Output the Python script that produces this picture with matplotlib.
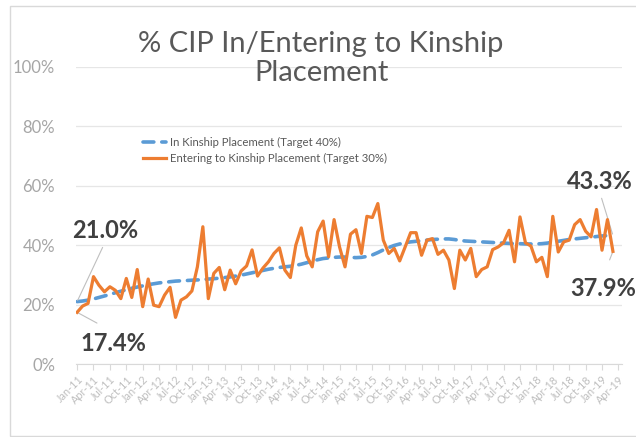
import matplotlib.pyplot as plt
from matplotlib.patches import Rectangle
from matplotlib.ticker import PercentFormatter

plt.rcParams['font.family'] = ['Lato', 'DejaVu Sans']

# Monthly values, Jan-11 .. Mar-19 (percent)
months = ["Jan", "Feb", "Mar", "Apr", "May", "Jun", "Jul", "Aug", "Sep", "Oct", "Nov", "Dec"]
dates = [f"{m}-{y:02d}" for y in range(11, 20) for m in months][:99]

in_kinship = [21.0, 21.2, 21.5, 21.9, 22.4, 22.9, 23.4, 24.0, 24.5, 25.0,
              25.5, 25.9, 26.3, 26.7, 27.0, 27.3, 27.5, 27.7, 27.9, 28.0,
              28.1, 28.2, 28.3, 28.4, 28.6, 28.7, 28.9, 29.1, 29.3, 29.6,
              29.9, 30.3, 30.7, 31.1, 31.5, 31.9, 32.2, 32.5, 32.7, 32.9,
              33.2, 33.6, 34.1, 34.6, 35.1, 35.5, 35.7, 35.9, 36.0, 36.0,
              35.9, 35.8, 35.9, 36.2, 36.7, 37.5, 38.4, 39.2, 39.9, 40.4,
              40.8, 41.1, 41.3, 41.5, 41.7, 41.9, 42.0, 42.1, 42.1, 41.9,
              41.6, 41.4, 41.3, 41.2, 41.1, 41.0, 40.9, 40.8, 40.7, 40.6,
              40.5, 40.5, 40.4, 40.4, 40.4, 40.5, 40.7, 41.0, 41.3, 41.6,
              41.9, 42.1, 42.3, 42.5, 42.7, 42.9, 43.1, 43.2, 43.3]

entering = [17.4, 19.5, 20.4, 29.4, 26.5, 24.3, 26.0, 24.8, 22.0, 28.8,
            22.4, 31.8, 19.3, 28.6, 19.8, 19.3, 23.2, 25.8, 15.7, 21.5,
            22.6, 24.6, 32.7, 46.2, 22.0, 30.5, 32.5, 25.0, 31.6, 27.0,
            31.3, 33.0, 38.4, 29.6, 32.3, 34.4, 37.2, 39.1, 31.6, 29.1,
            40.0, 45.8, 36.4, 32.7, 44.5, 48.1, 36.1, 48.6, 39.4, 32.7,
            43.7, 45.2, 37.2, 49.7, 49.3, 54.0, 41.7, 37.2, 38.9, 34.7,
            39.4, 44.2, 44.2, 36.6, 41.7, 42.2, 36.9, 38.3, 35.0, 25.4,
            38.3, 35.0, 38.9, 29.4, 31.8, 32.7, 38.5, 39.4, 40.8, 45.0,
            34.4, 49.5, 40.8, 39.7, 34.4, 35.9, 29.4, 49.7, 37.7, 41.1,
            41.7, 46.9, 48.6, 44.7, 42.8, 52.0, 38.3, 48.6, 37.9]

tick_labels = [f"{m}-{y:02d}" for y in range(11, 20) for m in ["Jan", "Apr", "Jul", "Oct"]][:34]

fig = plt.figure(figsize=(6.36, 4.37), dpi=100)
ax = fig.add_axes([0.1195, 0.167, 0.858, 0.68])

x = list(range(len(dates)))
ax.plot(x, in_kinship, color='#5B9BD5', lw=2.6, ls=(0, (3.0, 2.2)), dash_capstyle='round',
        label="In Kinship Placement (Target 40%)", zorder=3)
ax.plot(x, entering, color='#ED7D31', lw=2.3, solid_joinstyle='round',
        label="Entering to Kinship Placement (Target 30%)", zorder=4)

ax.set_ylim(0, 100)
ax.set_xlim(-0.2, 99.6)
ax.yaxis.set_major_formatter(PercentFormatter(decimals=0))
ax.set_yticks(range(0, 101, 20))
ax.set_xticks(range(0, 100, 3))
ax.set_xticklabels(tick_labels, rotation=45, ha='right', rotation_mode='anchor',
                   fontsize=7.8, color='#BFBFBF')
ax.tick_params(axis='y', length=0, pad=15, labelsize=12, labelcolor='#A6A6A6')
ax.tick_params(axis='x', length=4, color='#D9D9D9', pad=3)
ax.grid(axis='y', color='#E6E6E6', lw=0.9)
ax.set_axisbelow(True)
for s in ['top', 'right', 'left']:
    ax.spines[s].set_visible(False)
ax.spines['bottom'].set_color('#D9D9D9')

fig.text(0.505, 0.866, "% CIP In/Entering to Kinship\nPlacement", ha='center', va='center',
         fontsize=21, color='#595959', linespacing=1.12)

leg = ax.legend(loc='upper left', bbox_to_anchor=(0.115, 0.78), frameon=False,
                fontsize=8.2, handlelength=2.0, handletextpad=0.3, labelspacing=0.45,
                borderaxespad=0)
for t in leg.get_texts():
    t.set_color('#595959')

# data labels with leader lines
lbl = dict(fontsize=17, fontweight='bold', color='#404040', ha='center', va='center',
           textcoords='offset pixels')
line = dict(arrowstyle='-', color='#BFBFBF', lw=0.8, shrinkA=2, shrinkB=1)
ax.annotate(f"{in_kinship[0]:.1f}%", xy=(0, in_kinship[0]), xytext=(28, 71),
            arrowprops=dict(line, relpos=(0.5, 0)), **lbl)
ax.annotate(f"{entering[0]:.1f}%", xy=(0, entering[0]), xytext=(36, -31),
            arrowprops=dict(line, relpos=(0.5, 1), shrinkA=9), **lbl)
ax.annotate(f"{in_kinship[-1]:.1f}%", xy=(98, in_kinship[-1]), xytext=(-13, 54),
            arrowprops=dict(line, relpos=(0.5, 0)), **lbl)
ax.annotate(f"{entering[-1]:.1f}%", xy=(98, entering[-1]), xytext=(-10, -37),
            arrowprops=dict(line, relpos=(0.5, 1), shrinkA=11), **lbl)

fig.patches.append(Rectangle((10 / 636, 1 / 437), 1.0, 1 - 7 / 437, transform=fig.transFigure,
                             fill=False, edgecolor='#D9D9D9', lw=1))

plt.savefig("out.png", dpi=100)
